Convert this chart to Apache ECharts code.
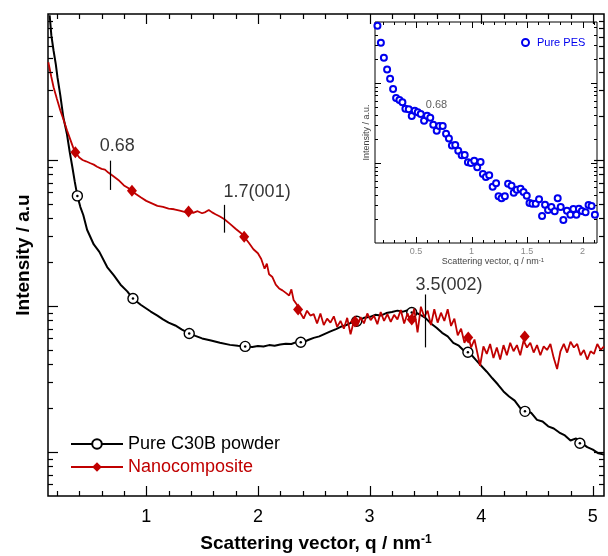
<!DOCTYPE html>
<html><head><meta charset="utf-8">
<script src="https://cdn.jsdelivr.net/npm/echarts@6/dist/echarts.min.js"></script>
<style>html,body{margin:0;padding:0;background:#fff}#c{width:608px;height:556px}</style>
</head><body><div id="c"></div>
<script>
// ---------- Main plot data ----------
const c30bQ = [0.135,0.15,0.17,0.19,0.205,0.23,0.257,0.29,0.315,0.338,0.36,0.383,0.41,0.436,0.47,0.53,0.58,0.65,0.71,0.77,0.83,0.88,0.95,1.04,1.1,1.15,1.2,1.26,1.32,1.385,1.44,1.5,1.58,1.66,1.75,1.82,1.886,
 1.95,2.0,2.05,2.1,2.15,2.2,2.25,2.3,2.35,2.4,2.45,2.5,2.55,2.6,2.65,2.7,2.75,2.8,2.85,2.9,2.95,3.0,3.05,3.1,3.15,3.2,3.25,3.3,3.35,3.4,3.45,3.5,3.55,3.6,3.65,3.7,3.75,3.8,3.85,3.9,3.95,4.0,4.05,4.1,4.15,4.2,4.25,4.3,4.35,4.4,4.45,4.5,4.55,4.6,4.65,4.7,4.75,4.8,4.85,4.9,4.95,5.0,5.05,5.1];
const c30bI = [980,713,560,452,368,278,197,150,113,89.6,70.8,56.8,47.6,42,33.3,26.4,23.5,18.5,16.2,14.0,12.6,11.25,10.2,9.17,8.6,8.1,7.7,7.36,6.9,6.49,6.25,6.0,5.8,5.6,5.42,5.34,5.29,
 5.25,5.32,5.28,5.40,5.34,5.45,5.52,5.50,5.68,5.62,5.85,6.05,6.20,6.45,6.70,6.95,7.25,7.45,7.80,7.95,8.30,8.40,8.70,8.60,8.95,9.10,9.30,9.15,9.40,9.10,8.75,8.30,7.60,7.10,6.55,6.20,5.60,5.35,4.90,4.75,4.30,3.90,3.55,3.20,2.90,2.60,2.40,2.25,2.00,1.92,1.85,1.66,1.62,1.50,1.45,1.36,1.30,1.20,1.24,1.15,1.08,1.04,0.98,0.96];
const c30bMarkQ = [0.383,0.881,1.385,1.886,2.384,2.885,3.378,3.881,4.392,4.884];
const c30bMarkI = [56.8,11.25,6.49,5.29,5.65,7.86,9.03,4.82,1.90,1.15];

const nanoQ = [0.123,0.15,0.17,0.2,0.23,0.26,0.29,0.32,0.345,0.365,0.4,0.43,0.46,0.5,0.53,0.56,0.6,0.63,0.66,0.7,0.75,0.8,0.85,0.872,0.9,0.95,1.0,1.05,1.1,1.15,1.2,1.25,1.3,1.35,1.38,1.42,1.46,1.5,1.53,1.56,1.59,1.62,1.66,1.7,1.75,1.8,1.85,1.877,1.92,1.96,2.0,2.03,2.06,2.08,2.1,2.13,2.16,2.19,2.22,2.25,2.28,2.3,2.32,2.35,
 2.38,2.41,2.44,2.47,2.5,2.53,2.56,2.59,2.62,2.65,2.68,2.71,2.74,2.77,2.8,2.83,2.86,2.89,2.92,2.95,2.98,3.01,3.04,3.07,3.1,3.13,3.16,3.19,3.22,3.25,3.28,3.31,3.34,3.37,3.4,3.43,3.46,3.49,3.52,3.55,3.58,3.61,3.64,3.67,3.7,3.73,3.76,3.79,3.82,3.85,3.88,3.91,3.94,3.97,3.99,4.02,4.05,4.08,4.11,4.14,4.17,4.2,4.23,4.26,4.29,4.32,4.35,4.38,4.41,4.44,4.47,4.5,4.53,4.56,4.59,4.62,4.65,4.68,4.71,4.74,4.77,4.8,4.83,4.86,4.89,4.92,4.95,4.98,5.01,5.04,5.07,5.1];
const nanoI = [467,370,315,262,219,188,160,138,122,113,104,100,98,95,93,90,87,86,82,78,73,67,63.5,61.7,59,55.5,52.5,50.5,48.5,47.8,46.5,46.0,45.0,44.0,44.4,43.5,44.6,43.2,44.0,45.5,43.8,42.5,41.0,39.3,36.5,33.8,31.5,29.8,27.0,24.5,23.0,21.0,18.0,19.5,16.5,15.8,14.0,13.2,12.8,12.3,11.8,13.0,11.0,10.2,
 9.0,8.2,9.3,8.6,8.8,7.6,8.9,7.4,8.2,7.7,8.5,7.2,7.9,7.0,8.3,6.4,7.9,7.3,8.4,7.6,8.9,8.0,8.6,7.5,9.1,7.9,8.8,7.8,8.7,8.1,9.4,7.6,8.9,7.7,9.6,6.6,9.9,8.4,9.3,7.4,9.5,7.7,9.0,7.9,9.5,7.3,8.2,6.3,7.0,5.6,6.4,5.2,5.9,4.6,3.9,5.3,4.7,5.5,4.4,5.2,4.3,5.4,4.6,5.6,4.9,5.4,4.6,5.8,5.2,5.6,4.8,5.4,4.6,5.3,5.0,5.5,4.4,3.7,4.9,5.5,4.8,5.7,5.2,5.5,4.6,5.0,4.3,4.9,4.7,5.5,5.0,5.3];
const nanoMarkQ = [0.365,0.872,1.379,1.877,2.36,2.87,3.378,3.884,4.39];
const nanoMarkI = [113,61.7,44.4,29.8,9.47,7.84,8.09,6.09,6.19];

// peak annotations
const peakText = ['0.68','1.7(001)','3.5(002)'];
const peakQ = [0.68,1.7,3.5];
const peakLow = [62.4,31.8,5.21];
const peakHigh = [99,49.3,12.0];
const peakTextQ = [0.74,1.993,3.711];
const peakTextI = [124.6,60.5,14.0];

// ---------- Inset data (Pure PES) ----------
const pesQ = [0.152,0.183,0.210,0.239,0.266,0.293,0.320,0.350,0.377,0.404,0.434,0.461,0.488,0.515,0.542,0.572,0.599,0.628,0.655,0.686,0.709,0.740,0.770,0.796,0.823,0.853,0.880,0.911,0.938,0.967,0.994,1.024,1.051,1.081,1.102,1.129,1.159,1.190,1.221,1.243,1.270,1.300,1.329,1.360,1.380,1.407,1.441,1.468,1.497,1.522,1.548,1.578,1.608,1.635,1.662,1.689,1.719,1.749,1.776,1.803,1.827,1.859,1.890,1.917,1.944,1.967,1.994,2.027,2.054,2.081,2.111];
const pesI = [520,319,207,148,113,84.1,64.9,61.3,57.4,47.7,46.9,38.7,45.1,43.0,41.0,33.8,39.0,36.8,30.1,25.3,29.0,29.0,23.2,20.3,16.6,16.8,14.2,12.5,12.6,10.2,10.0,10.7,8.84,10.3,7.29,6.68,7.02,5.06,5.57,3.84,3.62,3.84,5.51,5.20,4.25,4.64,4.77,4.34,3.90,3.16,3.10,3.10,3.52,2.18,3.01,2.59,2.82,2.49,3.62,2.82,1.94,2.53,2.26,2.66,2.26,2.68,2.51,2.42,2.99,2.90,2.26];
const insetText = ['0.68'];
const insetTextQ = [0.684];
const insetTextI = [53.1];

// ---------- Tick values ----------
const mainXLabels = [1,2,3,4,5];
const mainXMinor = [0.2,0.4,0.6,0.8,1.2,1.4,1.6,1.8,2.2,2.4,2.6,2.8,3.2,3.4,3.6,3.8,4.2,4.4,4.6,4.8];
const mainYMajor = [1,10,100];
const mainYMinor = [0.6,0.7,0.8,0.9,2,3,4,5,6,7,8,9,20,30,40,50,60,70,80,90,200,300,400,500,600,700,800,900];
const insetXLabels = [0.5,1,1.5,2];
const insetXMinor = [0.2,0.3,0.4,0.6,0.7,0.8,0.9,1.1,1.2,1.3,1.4,1.6,1.7,1.8,1.9,2.1];
const insetYMajor = [10,100];
const insetYMinor = [2,3,4,5,6,7,8,9,20,30,40,50,60,70,80,90,200,300,400,500];

const FONT = 'Liberation Sans, Arial, sans-serif';
const RED = '#c00000';
const BLUE = '#0000ee';
const zip = (a,b) => a.map((v,i)=>[v,b[i]]);

function tickData(xMaj, xMin, yMaj, yMin){
  return [].concat(xMaj.map(v=>[0,v,1]), xMin.map(v=>[0,v,0]), yMaj.map(v=>[1,v,1]), yMin.map(v=>[1,v,0]));
}
function tickRenderer(refX, refY, majLen, minLen, lw){
  return function(params, api){
    const cs = params.coordSys;
    const kind = api.value(0), v = api.value(1), L = api.value(2) ? majLen : minLen;
    const st = {stroke:'#000', lineWidth:lw};
    if (kind === 0) {
      const p = Math.round(api.coord([v, refY])[0]) + 0.5;
      return {type:'group', children:[
        {type:'line', shape:{x1:p, y1:cs.y+cs.height, x2:p, y2:cs.y+cs.height-L}, style:st},
        {type:'line', shape:{x1:p, y1:cs.y, x2:p, y2:cs.y+L}, style:st}]};
    }
    const p = Math.round(api.coord([refX, v])[1]) + 0.5;
    return {type:'group', children:[
      {type:'line', shape:{x1:cs.x, y1:p, x2:cs.x+L, y2:p}, style:st},
      {type:'line', shape:{x1:cs.x+cs.width, y1:p, x2:cs.x+cs.width-L, y2:p}, style:st}]};
  };
}

const chart = echarts.init(document.getElementById('c'), null, {renderer:'canvas'});
const hidden = {axisLine:{show:false}, axisTick:{show:false}, splitLine:{show:false}, minorTick:{show:false}, minorSplitLine:{show:false}};

chart.setOption({
  animation:false,
  backgroundColor:'#fff',
  textStyle:{fontFamily:FONT},
  grid:[
    {left:48, top:14, width:556, height:482, show:true, borderColor:'#000', borderWidth:1.5, backgroundColor:'transparent', containLabel:false, outerBoundsMode:'none'},
    {left:375, top:22, width:222, height:221, show:true, borderColor:'#000', borderWidth:1, backgroundColor:'#fff', containLabel:false, outerBoundsMode:'none', z:5}
  ],
  legend:[
    {orient:'vertical', left:65, top:430, itemWidth:52, itemHeight:12, itemGap:5, selectedMode:false,
     textStyle:{fontSize:18, fontFamily:FONT, color:'#000'},
     data:[{name:'Pure C30B powder', textStyle:{color:'#000'}}, {name:'Nanocomposite', textStyle:{color:RED}}]},
    {left:516, top:32, itemWidth:7, itemHeight:7, selectedMode:false, z:8,
     textStyle:{fontSize:11, fontFamily:FONT, color:BLUE, padding:[0,0,0,3]},
     data:['Pure PES']}
  ],
  xAxis:[
    Object.assign({type:'value', gridIndex:0, min:0.12, max:5.1,
      axisLabel:{customValues:mainXLabels, fontSize:18, color:'#000', margin:12, fontFamily:FONT},
      name:'Scattering vector, q / nm{sup|-1}', nameLocation:'middle', nameGap:38, nameMoveOverlap:false,
      nameTextStyle:{fontSize:19, fontWeight:'bold', color:'#000', fontFamily:FONT, padding:[0,20,0,0],
        rich:{sup:{fontSize:12, fontWeight:'bold', color:'#000', verticalAlign:'top', padding:[0,0,8,0], fontFamily:FONT}}}
    }, hidden),
    Object.assign({type:'value', gridIndex:1, min:0.13, max:2.13, z:6,
      axisLabel:{customValues:insetXLabels, fontSize:9, color:'#888', margin:4, fontFamily:FONT},
      name:'Scattering vector, q / nm{sup|-1}', nameLocation:'middle', nameGap:14, nameMoveOverlap:false,
      nameTextStyle:{fontSize:9, color:'#444', fontFamily:FONT, padding:[0,0,0,14],
        rich:{sup:{fontSize:6, color:'#444', verticalAlign:'top', padding:[0,0,4,0], fontFamily:FONT}}}
    }, hidden)
  ],
  yAxis:[
    Object.assign({type:'log', logBase:10, gridIndex:0, min:0.5, max:1000, axisLabel:{show:false},
      name:'Intensity / a.u', nameLocation:'middle', nameGap:15, nameMoveOverlap:false,
      nameTextStyle:{fontSize:19, fontWeight:'bold', color:'#000', fontFamily:FONT}}, hidden),
    Object.assign({type:'log', logBase:10, gridIndex:1, min:1, max:579, axisLabel:{show:false}, z:6,
      name:'Intensity / a.u.', nameLocation:'middle', nameGap:4, nameMoveOverlap:false,
      nameTextStyle:{fontSize:9, color:'#444', fontFamily:FONT}}, hidden)
  ],
  series:[
    {name:'Pure C30B powder', type:'line', xAxisIndex:0, yAxisIndex:0, data:zip(c30bQ,c30bI),
     symbol:'emptyCircle', showSymbol:false, lineStyle:{color:'#000', width:2}, itemStyle:{color:'#000'}, z:2, emphasis:{disabled:true}},
    {name:'c30bMarks', type:'scatter', xAxisIndex:0, yAxisIndex:0, data:zip(c30bMarkQ,c30bMarkI),
     symbol:'circle', symbolSize:10, itemStyle:{color:'#fff', borderColor:'#000', borderWidth:1.4, opacity:1}, z:3, emphasis:{disabled:true}},
    {name:'c30bDots', type:'scatter', xAxisIndex:0, yAxisIndex:0, data:zip(c30bMarkQ,c30bMarkI),
     symbol:'circle', symbolSize:2.5, itemStyle:{color:'#000', opacity:1}, z:3, emphasis:{disabled:true}},
    {name:'Nanocomposite', type:'line', xAxisIndex:0, yAxisIndex:0, data:zip(nanoQ,nanoI),
     symbol:'diamond', showSymbol:false, lineStyle:{color:RED, width:1.8}, itemStyle:{color:RED}, z:4, emphasis:{disabled:true}},
    {name:'nanoMarks', type:'scatter', xAxisIndex:0, yAxisIndex:0, data:zip(nanoMarkQ,nanoMarkI),
     symbol:'diamond', symbolSize:[10,12], itemStyle:{color:RED, opacity:1}, z:5, emphasis:{disabled:true}},
    {name:'peaks', type:'scatter', xAxisIndex:0, yAxisIndex:0, data:zip(peakTextQ,peakTextI),
     symbol:'circle', symbolSize:1, itemStyle:{color:'transparent'}, z:6, emphasis:{disabled:true}, silent:true,
     label:{show:true, position:'inside', align:'center', verticalAlign:'middle', fontSize:18, color:'#000', fontFamily:FONT,
       formatter:p=>peakText[p.dataIndex]},
     markLine:{silent:true, symbol:['none','none'], animation:false, label:{show:false},
       lineStyle:{color:'#000', width:1.2, type:'solid'}, emphasis:{disabled:true},
       data:peakQ.map((q,i)=>[{coord:[q,peakLow[i]]},{coord:[q,peakHigh[i]]}])}},
    {name:'mainTicks', type:'custom', xAxisIndex:0, yAxisIndex:0, silent:true, z:7,
     data:tickData(mainXLabels, mainXMinor, mainYMajor, mainYMinor), renderItem:tickRenderer(1, 10, 10, 5, 1.2)},
    {name:'Pure PES', type:'scatter', xAxisIndex:1, yAxisIndex:1, data:zip(pesQ,pesI),
     symbol:'emptyCircle', symbolSize:6, itemStyle:{color:BLUE, borderColor:BLUE, borderWidth:1.1, opacity:1}, z:8, emphasis:{disabled:true}},
    {name:'insetText', type:'scatter', xAxisIndex:1, yAxisIndex:1, data:zip(insetTextQ,insetTextI),
     symbol:'circle', symbolSize:1, itemStyle:{color:'transparent'}, z:8, silent:true, emphasis:{disabled:true},
     label:{show:true, position:'inside', align:'center', verticalAlign:'middle', fontSize:11, color:'#333', fontFamily:FONT,
       formatter:p=>insetText[p.dataIndex]}},
    {name:'insetTicks', type:'custom', xAxisIndex:1, yAxisIndex:1, silent:true, z:8,
     data:tickData(insetXLabels, insetXMinor, insetYMajor, insetYMinor), renderItem:tickRenderer(1, 10, 6, 3, 1)}
  ]
});
</script></body></html>
